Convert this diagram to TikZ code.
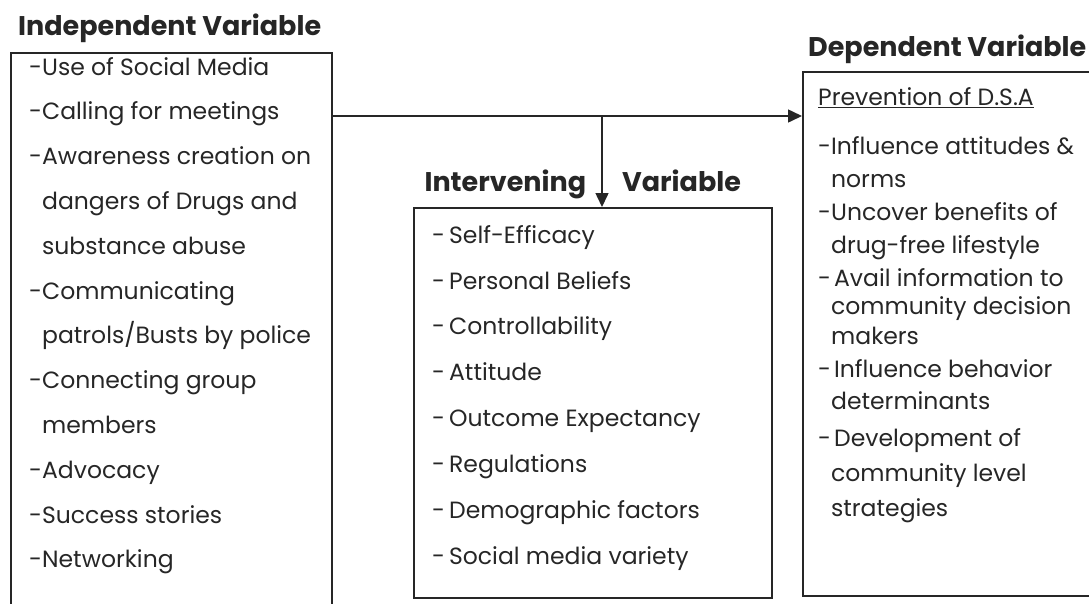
\documentclass[tikz,border=0pt]{standalone}
\usepackage{fontspec}
\setmainfont{Poppins}
\usetikzlibrary{positioning, arrows.meta}
\definecolor{inkgray}{HTML}{262626}
\tikzstyle{varbox} = [rectangle, draw=inkgray, line width=1.5pt, anchor=north west, inner sep=0pt]
\tikzstyle{itemlist} = [anchor=north west, align=left, inner sep=0pt, text=inkgray, font=\fontsize{23.5}{44.8}\selectfont]
\tikzstyle{heading} = [inner sep=0pt, text=inkgray, font=\bfseries\fontsize{27}{30}\selectfont]
\tikzstyle{arrow} = [line width=1.5pt, draw=inkgray, -{Triangle[length=14pt,width=13pt]}]

\begin{document}
\begin{tikzpicture}[x=1pt, y=-1pt]
		\clip (0,0) rectangle (1089,603);
		
		\node (indepbox) [varbox, minimum width=321pt, minimum height=600pt] at (10,52) {};
		\node (intbox) [varbox, minimum width=358pt, minimum height=390pt] at (413,207) {};
		\node (depbox) [varbox, minimum width=320pt, minimum height=524pt] at (802,71) {};
		
		\node (indeptitle) [heading, above right=9pt and 8pt of indepbox.north west] {Independent Variable};
		\node (inttitle) [heading, above=8pt of intbox.north, xshift=-10pt] {Intervening\hspace{36pt}Variable};
		\node (deptitle) [heading, above right=7pt and 6pt of depbox.north west] {Dependent Variable};
		
		
		\node (indeplist) [itemlist, below right=5pt and 19pt of indepbox.north west] {-Use of Social Media\\ -Calling for meetings\\ -Awareness creation on\\ \phantom{-}dangers of Drugs and\\ \phantom{-}substance abuse\\ -Communicating\\ \phantom{-}patrols/Busts by police\\ -Connecting group\\ \phantom{-}members\\ -Advocacy\\ -Success stories\\ -Networking};
		\node (intlist) [itemlist, font=\fontsize{23.5}{45.9}\selectfont, below right=18pt and 19pt of intbox.north west] {-\hspace{4pt}Self-Efficacy\\ -\hspace{4pt}Personal Beliefs\\ -\hspace{4pt}Controllability\\ -\hspace{4pt}Attitude\\ -\hspace{4pt}Outcome Expectancy\\ -\hspace{4pt}Regulations\\ -\hspace{4pt}Demographic factors\\ -\hspace{4pt}Social media variety};
		\node (deplist) [itemlist, font=\fontsize{23.5}{33}\selectfont, below right=16pt and 16pt of depbox.north west] {\underline{Prevention of D.S.A}\\[16pt] -Influence attitudes \&\\ \phantom{-}norms\\ -Uncover benefits of\\ \phantom{-}drug-free lifestyle\\ -\hspace{3pt}Avail information to\\[-5pt] \phantom{-}community decision\\[-3pt] \phantom{-}makers\\ -\hspace{3pt}Influence behavior\\[-1pt] \phantom{-}determinants\\[4pt] -\hspace{3pt}Development of\\[2pt] \phantom{-}community level\\[2pt] \phantom{-}strategies};
		
		\coordinate (split) at (602,116);
		\draw [arrow] (split -| indepbox.east) -- (split -| depbox.west);
		\draw [arrow] (split) -- (split |- intbox.north);
		
\end{tikzpicture}
\end{document}
